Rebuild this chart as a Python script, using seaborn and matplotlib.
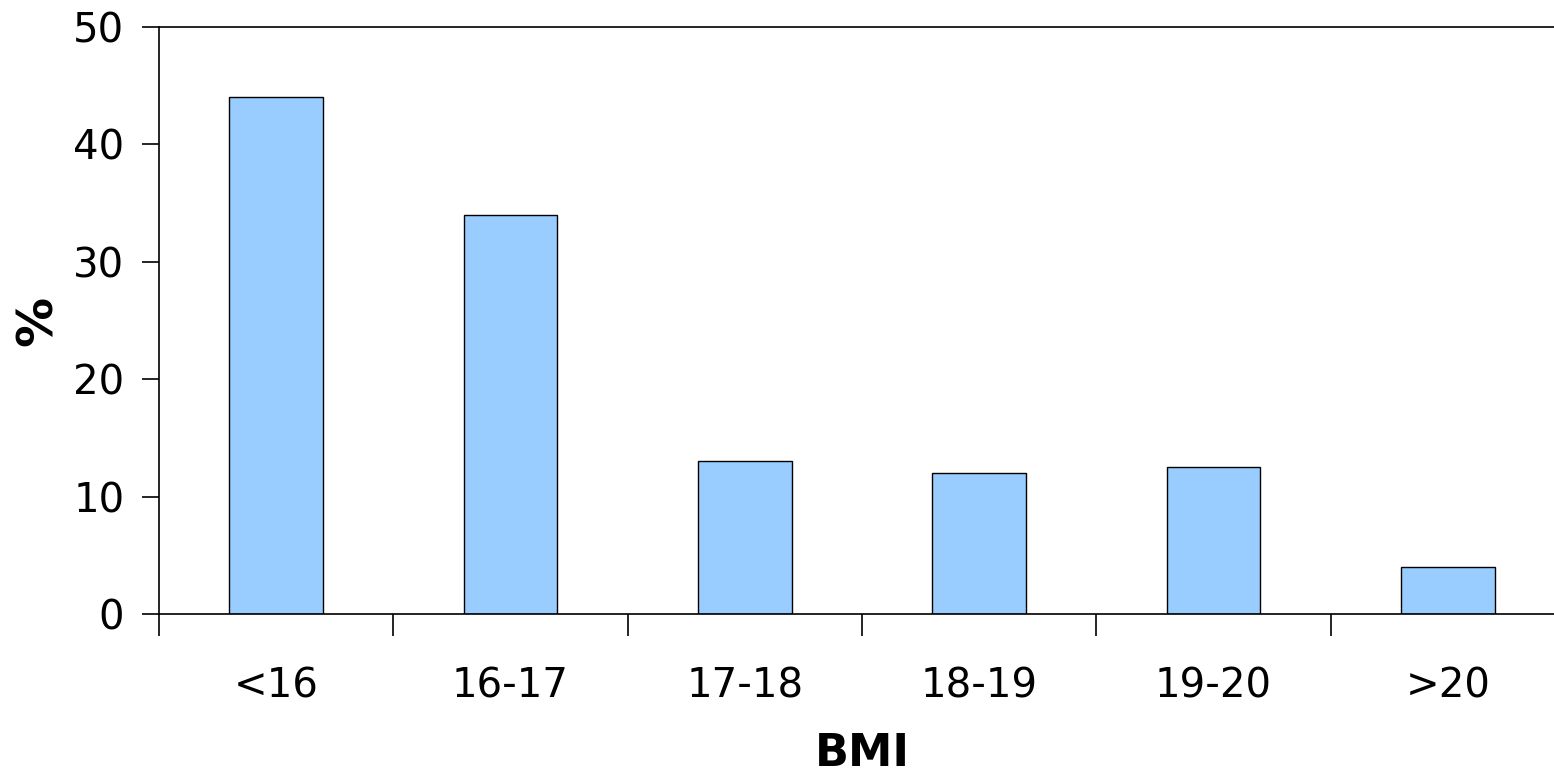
import matplotlib
matplotlib.use("Agg")
import matplotlib.pyplot as plt
import numpy as np
import pandas as pd
import seaborn as sns

bmi_groups = ["<16", "16-17", "17-18", "18-19", "19-20", ">20"]
percent = [44, 34, 13, 12, 12.5, 4]

df = pd.DataFrame({"BMI": bmi_groups, "pct": percent})

sns.set_style("white")
plt.rcParams["font.family"] = ["DejaVu Sans"]

fig = plt.figure(figsize=(15.54, 7.76), dpi=100)
ax = fig.add_axes([159 / 1554, 162 / 776, 1406 / 1554, 587 / 776])

sns.barplot(data=df, x="BMI", y="pct", color="#99CCFF", width=0.4,
            edgecolor="black", linewidth=1, saturation=1, ax=ax)

ax.set_xlim(-0.5, len(bmi_groups) - 0.5)
ax.set_ylim(0, 50)
ax.set_yticks(np.arange(0, 51, 10))

# ticks between categories, labels centred under bars
ax.set_xticks(np.arange(-0.5, len(bmi_groups), 1), minor=True)
ax.tick_params(axis="x", which="major", bottom=False, length=0, pad=38, labelsize=29)
ax.tick_params(axis="x", which="minor", bottom=True, length=16, width=1.2,
               direction="out", color="black")
ax.tick_params(axis="y", left=True, length=12, width=1.2, direction="out",
               color="black", pad=13, labelsize=29)
ax.tick_params(axis="both", labelcolor="black")

for s in ax.spines.values():
    s.set_color("black")
    s.set_linewidth(1.2)
    s.set_visible(True)
ax.spines["right"].set_visible(False)

ax.set_xlabel("BMI", fontsize=32, fontweight="bold", labelpad=18, color="black")
ax.set_ylabel("%", fontsize=36, fontweight="bold", labelpad=8, color="black")

fig.savefig("out.png", dpi=100)
